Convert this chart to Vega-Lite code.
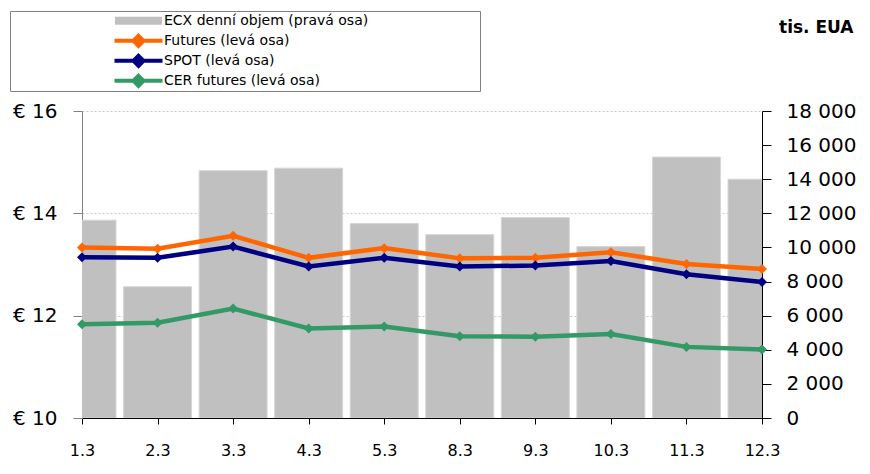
{
  "$schema": "https://vega.github.io/schema/vega-lite/v6.json",
  "width": 680,
  "height": 307,
  "autosize": "none",
  "padding": {"left": 82, "top": 111, "right": 108, "bottom": 56},
  "background": "white",
  "datasets": {
    "volume": [
      {"date": "1.3", "vol": 11600},
      {"date": "2.3", "vol": 7700},
      {"date": "3.3", "vol": 14500},
      {"date": "4.3", "vol": 14650},
      {"date": "5.3", "vol": 11400},
      {"date": "8.3", "vol": 10750},
      {"date": "9.3", "vol": 11750},
      {"date": "10.3", "vol": 10050},
      {"date": "11.3", "vol": 15300},
      {"date": "12.3", "vol": 14000}
    ],
    "prices": [
      {"date": "1.3", "series": "Futures (levá osa)", "price": 13.33},
      {"date": "2.3", "series": "Futures (levá osa)", "price": 13.31},
      {"date": "3.3", "series": "Futures (levá osa)", "price": 13.56},
      {"date": "4.3", "series": "Futures (levá osa)", "price": 13.13},
      {"date": "5.3", "series": "Futures (levá osa)", "price": 13.32},
      {"date": "8.3", "series": "Futures (levá osa)", "price": 13.12},
      {"date": "9.3", "series": "Futures (levá osa)", "price": 13.13},
      {"date": "10.3", "series": "Futures (levá osa)", "price": 13.24},
      {"date": "11.3", "series": "Futures (levá osa)", "price": 13.01},
      {"date": "12.3", "series": "Futures (levá osa)", "price": 12.91},
      {"date": "1.3", "series": "SPOT (levá osa)", "price": 13.14},
      {"date": "2.3", "series": "SPOT (levá osa)", "price": 13.13},
      {"date": "3.3", "series": "SPOT (levá osa)", "price": 13.35},
      {"date": "4.3", "series": "SPOT (levá osa)", "price": 12.96},
      {"date": "5.3", "series": "SPOT (levá osa)", "price": 13.13},
      {"date": "8.3", "series": "SPOT (levá osa)", "price": 12.96},
      {"date": "9.3", "series": "SPOT (levá osa)", "price": 12.98},
      {"date": "10.3", "series": "SPOT (levá osa)", "price": 13.07},
      {"date": "11.3", "series": "SPOT (levá osa)", "price": 12.81},
      {"date": "12.3", "series": "SPOT (levá osa)", "price": 12.66},
      {"date": "1.3", "series": "CER futures (levá osa)", "price": 11.83},
      {"date": "2.3", "series": "CER futures (levá osa)", "price": 11.86},
      {"date": "3.3", "series": "CER futures (levá osa)", "price": 12.14},
      {"date": "4.3", "series": "CER futures (levá osa)", "price": 11.75},
      {"date": "5.3", "series": "CER futures (levá osa)", "price": 11.79},
      {"date": "8.3", "series": "CER futures (levá osa)", "price": 11.6},
      {"date": "9.3", "series": "CER futures (levá osa)", "price": 11.59},
      {"date": "10.3", "series": "CER futures (levá osa)", "price": 11.64},
      {"date": "11.3", "series": "CER futures (levá osa)", "price": 11.39},
      {"date": "12.3", "series": "CER futures (levá osa)", "price": 11.34}
    ]
  },
  "layer": [
    {
      "data": {"name": "volume"},
      "mark": {"type": "bar", "width": 68, "clip": true, "fill": "#C0C0C0", "stroke": "#d6d6d6", "strokeWidth": 1},
      "encoding": {
        "x": {
          "field": "date", "type": "ordinal",
          "sort": ["1.3", "2.3", "3.3", "4.3", "5.3", "8.3", "9.3", "10.3", "11.3", "12.3"],
          "scale": {"type": "point", "padding": 0},
          "axis": {"title": null, "labelAngle": 0, "domainColor": "black", "tickColor": "black", "tickSize": 6, "labelPadding": 18, "labelFontSize": 16, "labelFont": "DejaVu Sans", "labelColor": "black", "grid": false}
        },
        "y": {
          "field": "vol", "type": "quantitative",
          "scale": {"domain": [0, 18000], "nice": false},
          "axis": {
            "orient": "right",
            "values": [0, 2000, 4000, 6000, 8000, 10000, 12000, 14000, 16000, 18000],
            "labelExpr": "replace(format(datum.value, ','), ',', ' ')",
            "grid": false, "domainColor": "black", "tickColor": "black", "tickSize": 9, "labelPadding": 15,
            "labelFontSize": 20, "labelFont": "DejaVu Sans", "labelColor": "black",
            "title": "tis. EUA", "titleX": 91, "titleY": -79, "titleAngle": 0, "titleAlign": "right", "titleBaseline": "alphabetic",
            "titleFont": "DejaVu Sans", "titleFontSize": 17, "titleFontWeight": "bold", "titleColor": "black"
          }
        },
        "color": {"datum": "ECX denní objem (pravá osa)", "type": "nominal"}
      }
    },
    {
      "data": {"name": "prices"},
      "mark": {"type": "line", "strokeWidth": 4.5, "point": {"shape": "diamond", "size": 100, "filled": true, "opacity": 1}},
      "encoding": {
        "x": {
          "field": "date", "type": "ordinal",
          "sort": ["1.3", "2.3", "3.3", "4.3", "5.3", "8.3", "9.3", "10.3", "11.3", "12.3"]
        },
        "y": {
          "field": "price", "type": "quantitative",
          "scale": {"domain": [10, 16], "nice": false, "zero": false},
          "axis": {
            "orient": "left", "values": [10, 12, 14, 16], "labelExpr": "'€ ' + datum.value",
            "title": null, "grid": true, "gridColor": "#c8c8c8", "gridDash": [2, 2], "gridWidth": 1,
            "domainColor": "#808080", "tickColor": "#808080", "tickSize": 9, "labelPadding": 16,
            "labelFontSize": 20, "labelFont": "DejaVu Sans", "labelColor": "black"
          }
        },
        "color": {
          "field": "series", "type": "nominal",
          "scale": {
            "domain": ["ECX denní objem (pravá osa)", "Futures (levá osa)", "SPOT (levá osa)", "CER futures (levá osa)"],
            "range": ["#C0C0C0", "#FF6600", "#000080", "#339966"]
          },
          "legend": {
            "orient": "none", "legendX": -72, "legendY": -100,
            "title": "\u00a0", "titleOrient": "right", "titlePadding": 112,
            "padding": 0, "symbolOffset": 121.5, "labelOffset": 18.5, "symbolSize": 100, "rowPadding": 0,
            "clipHeight": 19.7,
            "strokeColor": "#808080", "fillColor": "white",
            "labelFont": "DejaVu Sans", "labelFontSize": 14, "labelColor": "black", "labelLimit": 400,
            "encode": {
              "symbols": {
                "update": {
                  "shape": {"signal": "datum.index === 0 ? 'M-4.7,-0.8H4.7V0.8H-4.7Z' : 'M-4.8,0H4.8M0,-1L1,0L0,1L-1,0Z'"},
                  "fill": {"scale": "color", "field": "value"},
                  "stroke": {"signal": "datum.index === 0 ? 'transparent' : scale('color', datum.value)"},
                  "strokeWidth": {"signal": "datum.index === 0 ? 0 : 4"},
                  "opacity": {"value": 1},
                  "fillOpacity": {"value": 1},
                  "strokeOpacity": {"value": 1}
                }
              }
            }
          }
        }
      }
    }
  ],
  "resolve": {"scale": {"y": "independent"}},
  "config": {
    "view": {"stroke": null},
    "axis": {"labelFont": "DejaVu Sans"}
  }
}
